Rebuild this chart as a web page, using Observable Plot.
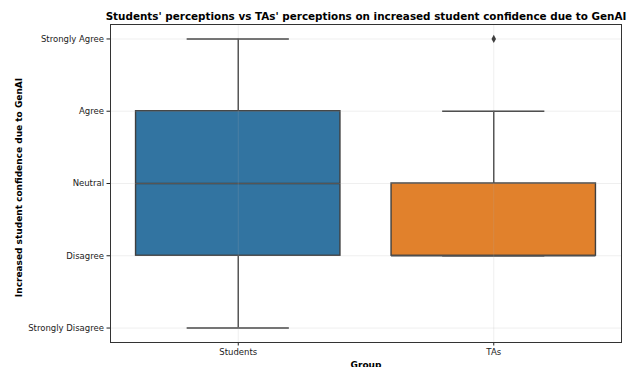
<!DOCTYPE html>
<html>
<head>
<meta charset="utf-8">
<script src="https://cdn.jsdelivr.net/npm/d3@7"></script>
<script src="https://cdn.jsdelivr.net/npm/@observablehq/plot@0.6"></script>
<style>
  html, body { margin: 0; padding: 0; background: #fff; }
  svg { font-family: "DejaVu Sans", sans-serif; }
</style>
</head>
<body>
<div id="chart"></div>
<script>
// Likert scale labels (1 = Strongly Disagree ... 5 = Strongly Agree)
const levels = ["Strongly Disagree", "Disagree", "Neutral", "Agree", "Strongly Agree"];
const levelValues = [1, 2, 3, 4, 5];

// Box-plot summary per group
const groups = ["Students", "TAs"];
const whiskerLow = [1, 2];
const q1 = [2, 2];
const median = [3, 2];
const q3 = [4, 3];
const whiskerHigh = [5, 4];
const colors = ["#3274a1", "#e1812c"];

// Points beyond the whiskers
const outlierGroup = ["TAs"];
const outlierValue = [5];

const boxes = groups.map((g, i) => ({
  g, i, lo: whiskerLow[i], q1: q1[i], med: median[i], q3: q3[i], hi: whiskerHigh[i], color: colors[i]
}));
const outliers = outlierGroup.map((g, k) => ({ i: groups.indexOf(g), v: outlierValue[k] }));

const halfBox = 0.4;
const halfCap = 0.2;
const edge = "#3f3f3f";

// thin diamond marker
const thinDiamond = {
  draw(context, size) {
    const h = Math.sqrt(size) * 0.9;
    const w = h * 0.55;
    context.moveTo(0, -h);
    context.lineTo(w, 0);
    context.lineTo(0, h);
    context.lineTo(-w, 0);
    context.closePath();
  }
};

const title = "Students' perceptions vs TAs' perceptions on increased student confidence due to GenAI";

const chart = Plot.plot({
  width: 631,
  height: 367,
  marginLeft: 110,
  marginRight: 10,
  marginTop: 24,
  marginBottom: 25,
  style: { fontFamily: "DejaVu Sans, sans-serif", fontSize: "8.5px", color: "#222", overflow: "visible" },
  x: {
    type: "linear",
    domain: [-0.5, 1.5],
    ticks: groups.map((_, i) => i),
    tickFormat: i => groups[i],
    tickSize: 3.5,
    tickPadding: 3,
    label: null
  },
  y: {
    domain: [0.8, 5.2],
    ticks: levelValues,
    tickFormat: v => levels[v - 1],
    tickSize: 3.5,
    tickPadding: 3,
    label: null
  },
  marks: [
    // whiskers
    Plot.ruleX(boxes, { x: "i", y1: "lo", y2: "q1", stroke: edge, strokeWidth: 1.4 }),
    Plot.ruleX(boxes, { x: "i", y1: "q3", y2: "hi", stroke: edge, strokeWidth: 1.4 }),
    // caps
    Plot.ruleY(boxes, { y: "lo", x1: d => d.i - halfCap, x2: d => d.i + halfCap, stroke: edge, strokeWidth: 1.4 }),
    Plot.ruleY(boxes, { y: "hi", x1: d => d.i - halfCap, x2: d => d.i + halfCap, stroke: edge, strokeWidth: 1.4 }),
    // boxes
    Plot.rect(boxes, {
      x1: d => d.i - halfBox, x2: d => d.i + halfBox, y1: "q1", y2: "q3",
      fill: "color", stroke: edge, strokeWidth: 1.4
    }),
    // medians
    Plot.ruleY(boxes, { y: "med", x1: d => d.i - halfBox, x2: d => d.i + halfBox, stroke: edge, strokeWidth: 1.4 }),
    // grid on top, faint
    Plot.gridY(levelValues, { stroke: "#b0b0b0", strokeOpacity: 0.25, strokeWidth: 0.8 }),
    Plot.gridX([0, 1], { stroke: "#b0b0b0", strokeOpacity: 0.25, strokeWidth: 0.8 }),
    // outliers
    Plot.dot(outliers, { x: "i", y: "v", symbol: thinDiamond, r: 2.6, fill: edge, stroke: "none" }),
    Plot.frame({ stroke: "#333", strokeWidth: 1 }),
    // axis titles and chart title
    Plot.text([title], {
      frameAnchor: "top", lineAnchor: "middle", dy: -8, fontWeight: "bold", fontSize: 10.4, fill: "#000"
    }),
    Plot.text(["Increased student confidence due to GenAI"], {
      frameAnchor: "left", textAnchor: "middle", lineAnchor: "middle", dx: -91, dy: 4, rotate: -90,
      fontWeight: "bold", fontSize: 9, fill: "#000"
    }),
    Plot.text(["Group"], {
      frameAnchor: "bottom", lineAnchor: "middle", dy: 23, fontWeight: "bold", fontSize: 9, fill: "#000"
    })
  ]
});

document.getElementById("chart").appendChild(chart);
</script>
</body>
</html>
